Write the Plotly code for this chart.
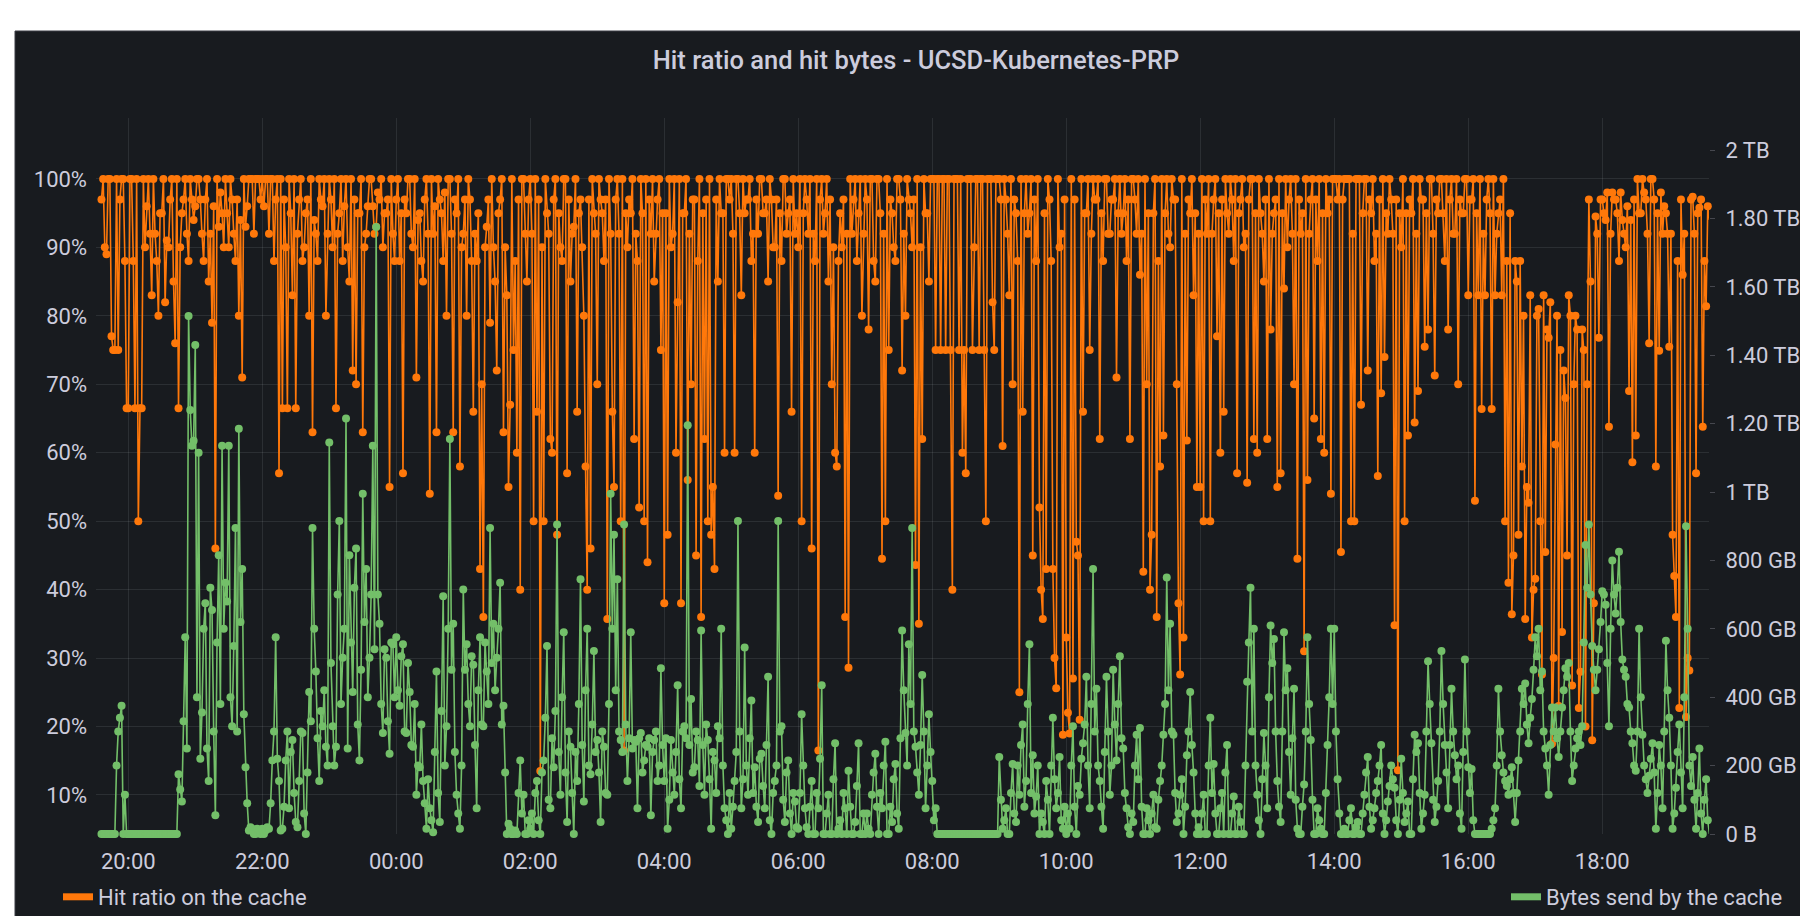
import pandas as pd
import plotly.graph_objects as go

# ---------------- data ----------------
# samples every 3 min starting 19:36, plus the samples in between (every 3 min starting 19:37:30)
start_time = "2022-03-14 19:36"
start_time_mid = "2022-03-14 19:37:30"
step = "3min"

# Hit ratio on the cache (%), one row per hour
hit_ratio = [
    97, 90, 100, 77, 75, 75, 100, 88,                                                       # 19:36-19:57
    66.5, 100, 66.5, 50, 66.5, 90, 100, 83, 92, 80, 95, 82, 90, 100, 76, 66.5, 95, 100, 88, 97,  # 20
    96, 100, 92, 97, 85, 79, 46, 93, 95, 100, 90, 97, 88, 80, 71, 93, 100, 100, 100, 100,   # 21
    100, 100, 92, 100, 97, 57, 66.5, 90, 100, 83, 66.5, 97, 88, 95, 80, 63, 92, 100, 96, 80,  # 22
    100, 90, 66.5, 95, 88, 100, 85, 72, 70, 95, 63, 92, 100, 96, 93, 97, 90, 95, 55, 92,    # 23
    97, 88, 57, 95, 100, 90, 71, 95, 85, 100, 54, 92, 63, 97, 88, 80, 100, 63, 95, 58,      # 00
    92, 80, 97, 66, 88, 43, 36, 93, 79, 90, 72, 97, 63, 83, 67, 75, 60, 40, 100, 85,        # 01
    100, 50, 66, 13.5, 50, 95, 62, 97, 48, 90, 100, 57, 85, 93, 66, 97, 80, 40, 46, 95,     # 02
    70, 97, 88, 35.7, 92, 55, 100, 50, 16.5, 90, 95, 62, 88, 100, 50, 44, 92, 85, 97, 75,   # 03
    38, 48, 90, 100, 82, 38, 95, 56, 70, 97, 88, 36, 62, 50, 48, 43, 85, 95, 60, 100,       # 04
    100, 60, 100, 83, 95, 97, 88, 60, 92, 100, 95, 85, 97, 90, 53.7, 88, 100, 95, 66, 92,   # 05
    90, 50, 100, 92, 46, 88, 16.5, 100, 95, 85, 70, 60, 88, 90, 36, 28.6, 92, 100, 95, 80,  # 06
    100, 78, 100, 85, 100, 44.5, 50, 75, 95, 88, 100, 72, 80, 97, 90, 43.6, 35, 62, 95, 85,  # 07
    100, 75, 100, 100, 75, 100, 40, 100, 75, 60, 57, 100, 75, 100, 75, 100, 50, 100, 82, 100,  # 08
    100, 61, 97, 83, 70, 95, 25, 66, 100, 95, 45, 88, 52, 35.7, 43, 97, 43, 25.6, 90, 18.8,  # 09
    33, 19, 27, 47, 21, 66, 95, 75, 100, 97, 62, 88, 100, 92, 97, 71, 100, 95, 88, 62,      # 10
    100, 92, 86, 42.6, 70, 40, 95, 36, 58, 62.5, 100, 90, 97, 70, 27.6, 33, 61.8, 95, 83, 55,  # 11
    55, 50, 92, 50, 97, 77, 60, 66, 95, 100, 88, 57, 97, 90, 55.6, 100, 62, 60, 95, 85,     # 12
    62, 78, 95, 55, 57, 84, 90, 100, 70, 44.5, 92, 31, 56, 97, 65, 88, 62, 60, 95, 54,      # 13
    100, 97, 45.5, 100, 100, 50, 50, 100, 67, 100, 72, 95, 88, 56.6, 68.7, 74, 92, 97, 34.8, 13.6,  # 14
    90, 50, 62.5, 95, 64.4, 69, 97, 75.5, 78, 100, 71.3, 95, 100, 88, 78, 100, 92, 70, 95, 100,  # 15
    83, 97, 53, 83, 66.4, 83, 100, 66.4, 83, 95, 83, 50, 41, 36.4, 88, 48, 58, 35.7, 52.7, 33,  # 16
    41.6, 81, 27.6, 45.5, 76.8, 17.5, 61.2, 23, 33.8, 68, 83, 26, 80, 22.7, 78, 20, 97, 18, 94.5, 76.8,  # 17
    97, 94, 63.8, 98, 97, 88, 94, 90, 69, 58.6, 62.5, 95, 100, 97, 76, 100, 58, 74.9, 92, 95,  # 18
    75.5, 48, 36, 22.7, 86, 21.4, 28.2, 97.4, 57, 95.8, 63.8, 81.4, 94,                     # 19:00-19:36
]

# Hit ratio, in-between samples (19:37:30, 19:40:30, ...)
hit_ratio_mid = [
    100, 89, 100, 75, 100, 97, 100, 66.5,                                                    # 19
    100, 88, 100, 66.5, 100, 96, 92, 100, 88, 95, 100, 91, 97, 85, 100, 90, 97, 92, 100, 94,  # 20
    100, 97, 88, 100, 92, 96, 100, 98, 90, 95, 100, 92, 97, 94, 100, 96, 100, 92, 100, 97,  # 21
    96, 100, 100, 88, 100, 100, 97, 66.5, 95, 100, 92, 100, 90, 97, 100, 94, 88, 97, 100, 92,  # 22
    97, 100, 92, 100, 96, 90, 100, 97, 95, 100, 90, 96, 100, 92, 98, 100, 95, 97, 100, 88,  # 23
    100, 95, 97, 100, 92, 100, 94, 88, 97, 92, 100, 96, 100, 95, 98, 100, 92, 97, 100, 90,  # 00
    97, 100, 88, 92, 95, 70, 90, 97, 100, 85, 95, 100, 90, 55, 100, 88, 97, 100, 92, 97,    # 01
    92, 100, 97, 90, 100, 92, 60, 100, 95, 88, 100, 97, 92, 100, 95, 90, 58, 97, 100, 92,   # 02
    100, 95, 97, 100, 66, 97, 92, 100, 95, 97, 100, 92, 52, 95, 100, 97, 100, 92, 100, 95,  # 03
    95, 100, 92, 60, 100, 95, 100, 92, 97, 45, 100, 95, 97, 100, 55, 97, 100, 95, 100, 97,  # 04
    92, 100, 95, 100, 97, 100, 92, 97, 100, 95, 97, 100, 90, 97, 95, 100, 92, 97, 100, 95,  # 05
    100, 95, 97, 100, 92, 100, 97, 92, 100, 97, 90, 58, 95, 97, 92, 100, 97, 88, 100, 92,   # 06
    97, 100, 88, 100, 95, 92, 100, 97, 90, 100, 97, 92, 100, 95, 97, 100, 90, 100, 95, 100,  # 07
    100, 100, 75, 100, 100, 75, 100, 100, 100, 75, 100, 100, 90, 100, 100, 75, 100, 100, 75, 100,  # 08
    97, 100, 92, 100, 97, 88, 100, 95, 92, 100, 97, 100, 40, 95, 100, 88, 30, 100, 92, 97,  # 09
    22, 100, 97, 45, 100, 95, 100, 92, 97, 100, 95, 100, 92, 97, 100, 95, 92, 100, 97, 100,  # 10
    97, 100, 92, 100, 95, 48, 100, 88, 100, 95, 92, 100, 97, 38, 100, 92, 97, 100, 95, 92,  # 11
    100, 97, 100, 92, 100, 95, 97, 100, 92, 97, 100, 95, 100, 92, 97, 100, 95, 100, 92, 97,  # 12
    100, 92, 97, 100, 95, 100, 97, 92, 100, 97, 95, 100, 92, 100, 97, 100, 95, 100, 97, 100,  # 13
    100, 100, 97, 100, 100, 92, 100, 100, 95, 100, 97, 100, 92, 97, 100, 95, 100, 92, 97, 95,  # 14
    100, 95, 97, 100, 92, 100, 97, 95, 100, 92, 97, 100, 95, 100, 97, 92, 100, 97, 95, 100,  # 15
    97, 100, 95, 100, 92, 97, 95, 100, 92, 97, 100, 88, 95, 45, 85, 88, 80, 55, 83, 40,     # 16
    80, 50, 83, 78, 82, 30, 80, 75, 72, 45, 80, 70, 78, 28, 75, 70, 85, 38, 92, 97,         # 17
    95, 98, 92, 97, 95, 98, 92, 96, 94, 97, 100, 95, 98, 92, 100, 97, 95, 98, 96, 92,       # 18
    92, 42, 88, 97, 92, 30, 97, 92, 95, 97, 88, 96,                                          # 19
]

# Bytes send by the cache (GB), one row per hour
bytes_gb = [
    0, 0, 0, 0, 0, 300, 375, 115,                                                            # 19:36-19:57
    0, 0, 0, 0, 0, 0, 0, 0, 0, 0, 0, 0, 0, 0, 0, 175, 95, 575, 1515, 1135,                  # 20
    1430, 1115, 355, 675, 155, 655, 55, 815, 1135, 735, 1135, 315, 895, 1185, 775, 195, 10, 15, 0, 10,  # 21
    15, 10, 15, 215, 575, 155, 15, 215, 75, 275, 35, 155, 295, 0, 415, 895, 475, 155, 315, 255,  # 22
    1145, 315, 255, 915, 515, 1215, 815, 415, 835, 215, 995, 775, 515, 1135, 1775, 615, 295, 515, 235, 555,  # 23
    575, 375, 555, 295, 415, 255, 115, 195, 155, 15, 75, 5, 475, 35, 695, 315, 1155, 615, 115, 15,  # 00
    715, 555, 315, 495, 75, 575, 315, 475, 895, 615, 515, 735, 375, 0, 15, 0, 0, 215, 115, 0,  # 01
    15, 0, 155, 0, 215, 550, 75, 195, 905, 115, 590, 35, 255, 0, 155, 745, 95, 600, 175, 535,  # 02
    275, 35, 255, 115, 995, 875, 745, 275, 905, 155, 590, 275, 75, 295, 215, 255, 55, 275, 155, 485,  # 03
    155, 15, 275, 115, 435, 75, 315, 1195, 395, 195, 275, 595, 115, 275, 15, 215, 315, 600, 75, 0,  # 04
    15, 155, 915, 75, 545, 115, 390, 195, 35, 235, 75, 460, 0, 155, 915, 315, 35, 215, 0, 95,  # 05
    15, 350, 75, 0, 155, 0, 75, 435, 0, 115, 0, 265, 15, 0, 75, 185, 0, 35, 265, 0,          # 06
    0, 15, 115, 235, 0, 75, 270, 0, 35, 205, 15, 595, 295, 555, 895, 255, 115, 465, 75, 350,  # 07
    155, 75, 0, 0, 0, 0, 0, 0, 0, 0, 0, 0, 0, 0, 0, 0, 0, 0, 0, 0,                           # 08
    225, 15, 75, 0, 205, 35, 115, 320, 155, 555, 230, 110, 0, 35, 155, 0, 340, 75, 225, 15,  # 09
    0, 15, 315, 0, 115, 265, 460, 75, 775, 425, 155, 15, 460, 115, 480, 215, 520, 250, 75, 0,  # 10
    35, 290, 310, 0, 75, 0, 115, 15, 155, 290, 750, 615, 290, 35, 115, 0, 230, 415, 180, 0,  # 11
    0, 115, 0, 340, 205, 0, 75, 0, 260, 0, 110, 0, 35, 0, 445, 720, 600, 115, 0, 295,        # 12
    75, 610, 570, 155, 35, 590, 485, 115, 425, 15, 0, 145, 575, 275, 0, 75, 15, 0, 260, 600,  # 13
    600, 160, 0, 15, 0, 75, 0, 35, 0, 115, 225, 15, 75, 155, 260, 0, 95, 200, 135, 0,        # 14
    220, 35, 95, 0, 290, 265, 15, 115, 505, 265, 35, 155, 535, 260, 75, 425, 230, 200, 15, 510,  # 15
    195, 190, 0, 0, 0, 0, 0, 15, 75, 425, 230, 155, 115, 195, 35, 215, 425, 440, 265, 395,   # 16
    575, 600, 475, 250, 115, 370, 370, 225, 370, 485, 500, 155, 250, 300, 315, 845, 905, 550, 420, 540,  # 17
    710, 670, 315, 800, 645, 825, 510, 460, 370, 265, 185, 600, 290, 160, 170, 265, 15, 260, 75, 565,  # 18
    340, 15, 135, 320, 75, 900, 200, 225, 15, 250, 0, 160, 0,                                # 19:00-19:36
]

# Bytes, in-between samples (GB)
bytes_gb_mid = [
    0, 0, 0, 0, 200, 340, 0, 0,                                                              # 19
    0, 0, 0, 0, 0, 0, 0, 0, 0, 0, 0, 0, 0, 0, 0, 130, 330, 250, 1240, 1150,                 # 20
    400, 220, 600, 250, 720, 300, 560, 380, 600, 680, 400, 550, 300, 620, 350, 90, 20, 0, 15, 0,  # 21
    0, 20, 90, 300, 220, 10, 80, 300, 240, 120, 20, 300, 60, 180, 330, 600, 280, 360, 420, 200,  # 22
    500, 200, 700, 380, 600, 250, 560, 720, 320, 480, 620, 400, 700, 540, 700, 380, 540, 330, 560, 400,  # 23
    420, 520, 300, 500, 260, 380, 200, 320, 90, 160, 40, 240, 120, 360, 200, 600, 480, 240, 60, 200,  # 00
    480, 380, 520, 260, 420, 320, 560, 380, 500, 420, 600, 320, 180, 30, 0, 10, 120, 60, 0, 40,  # 01
    60, 120, 40, 180, 340, 100, 280, 360, 240, 400, 180, 300, 120, 240, 380, 260, 420, 200, 320, 240,  # 02
    180, 300, 120, 380, 600, 420, 300, 240, 320, 280, 250, 270, 280, 180, 260, 280, 240, 300, 200, 260,  # 03
    280, 100, 180, 240, 160, 300, 280, 260, 180, 300, 140, 260, 320, 160, 240, 120, 280, 200, 40, 120,  # 04
    80, 240, 300, 160, 200, 280, 120, 80, 220, 140, 260, 40, 120, 200, 300, 100, 180, 60, 120, 20,  # 05
    120, 200, 20, 80, 0, 120, 220, 0, 60, 0, 160, 0, 40, 120, 0, 80, 0, 140, 0, 60,          # 06
    60, 0, 180, 80, 120, 200, 0, 80, 160, 60, 280, 420, 200, 380, 300, 180, 260, 300, 200, 240,  # 07
    40, 0, 0, 0, 0, 0, 0, 0, 0, 0, 0, 0, 0, 0, 0, 0, 0, 0, 0, 0,                             # 08
    100, 40, 0, 120, 60, 200, 260, 80, 380, 120, 60, 200, 60, 0, 100, 200, 160, 120, 40, 80,  # 09
    60, 200, 80, 140, 220, 320, 200, 380, 300, 200, 80, 240, 300, 200, 320, 380, 280, 120, 20, 60,  # 10
    200, 160, 80, 0, 40, 60, 20, 100, 200, 380, 420, 300, 120, 60, 160, 80, 300, 260, 60, 20,  # 11
    60, 0, 200, 120, 60, 0, 120, 180, 0, 60, 0, 80, 0, 200, 560, 300, 200, 40, 160, 200,     # 12
    400, 500, 300, 80, 300, 420, 240, 280, 100, 0, 80, 300, 380, 100, 0, 40, 0, 120, 400, 380,  # 13
    300, 60, 0, 0, 40, 0, 20, 0, 60, 180, 80, 40, 120, 200, 60, 40, 140, 160, 40, 100,       # 14
    120, 60, 0, 160, 240, 120, 60, 300, 380, 100, 80, 300, 380, 180, 260, 300, 160, 60, 240, 300,  # 15
    120, 40, 0, 0, 0, 0, 0, 40, 200, 300, 180, 140, 160, 120, 120, 300, 380, 320, 340, 480,  # 16
    520, 420, 300, 200, 260, 300, 280, 300, 420, 460, 300, 200, 280, 260, 560, 720, 700, 480, 480, 620,  # 17
    700, 500, 600, 700, 720, 620, 480, 380, 300, 200, 300, 400, 200, 120, 220, 180, 120, 200, 300, 420,  # 18
    200, 60, 240, 180, 400, 600, 140, 100, 120, 60, 100, 40,                                 # 19
]

# axis labels
x_range = ["2022-03-14 19:31:06", "2022-03-15 19:35:36"]
first_tick = "2022-03-14 20:00"
right_tick_bytes = [0, 200e9, 400e9, 600e9, 800e9, 1000e9, 1200e9, 1400e9, 1600e9, 1800e9, 2000e9]
right_tick_text = ["0 B", "200 GB", "400 GB", "600 GB", "800 GB", "1 TB",
                   "1.20 TB", "1.40 TB", "1.60 TB", "1.80 TB", "2 TB"]

title_text = "Hit ratio and hit bytes - UCSD-Kubernetes-PRP"
name_hit = "Hit ratio on the cache"
name_bytes = "Bytes send by the cache"

# ---------------- style ----------------
ORANGE = "#FF780A"
GREEN = "#73BF69"
BG = "#181B1F"
TEXT = "#CCCCDC"
GRID = "rgba(240,250,255,0.09)"
FONT = "Roboto, 'Open Sans', sans-serif"

W, H = 1800, 916
ML, MR, MT, MB = 96, 91, 118, 82
PW, PH = W - ML - MR, H - MT - MB


def px_x(px):
    return (px - ML) / PW


def px_y(py):
    return (H - MB - py) / PH


def merged_series(a, a_start, b, b_start):
    s1 = pd.Series(a, index=pd.date_range(a_start, periods=len(a), freq=step))
    s2 = pd.Series(b, index=pd.date_range(b_start, periods=len(b), freq=step))
    return pd.concat([s1, s2]).sort_index()


hit = merged_series(hit_ratio, start_time, hit_ratio_mid, start_time_mid)
sent = merged_series(bytes_gb, start_time, bytes_gb_mid, start_time_mid) * 1e9

fig = go.Figure()
fig.add_trace(go.Scatter(
    x=hit.index, y=hit.values, mode="lines+markers", yaxis="y",
    line=dict(color=ORANGE, width=1.6), marker=dict(color=ORANGE, size=8),
    cliponaxis=False, showlegend=False, name=name_hit))
fig.add_trace(go.Scatter(
    x=sent.index, y=sent.values, mode="lines+markers", yaxis="y2",
    line=dict(color=GREEN, width=1.6), marker=dict(color=GREEN, size=8),
    cliponaxis=False, showlegend=False, name=name_bytes))

# legend entries
fig.add_trace(go.Scatter(x=[None], y=[None], mode="lines", name=name_hit,
                         line=dict(color=ORANGE, width=7), legend="legend"))
fig.add_trace(go.Scatter(x=[None], y=[None], mode="lines", name=name_bytes, yaxis="y2",
                         line=dict(color=GREEN, width=7), legend="legend2"))

fig.update_layout(
    width=W, height=H,
    margin=dict(l=ML, r=MR, t=MT, b=MB, autoexpand=False),
    paper_bgcolor="white", plot_bgcolor=BG,
    font=dict(family=FONT, size=22, color=TEXT),
    title=dict(text=title_text, x=916 / W, xanchor="center", xref="container",
               y=1 - 60 / H, yanchor="middle", yref="container",
               font=dict(family=FONT, size=25.5, color=TEXT, weight=500)),
    xaxis=dict(type="date", range=x_range, tick0=first_tick, dtick=2 * 3600 * 1000,
               tickformat="%H:%M", showgrid=True, gridcolor=GRID, gridwidth=1,
               zeroline=False, showline=False, ticks="", ticklabelstandoff=12,
               automargin=False, tickfont=dict(size=22, color=TEXT)),
    yaxis=dict(range=[4.3, 108.9], tick0=0, dtick=10, ticksuffix="%",
               showgrid=True, gridcolor=GRID, gridwidth=1, zeroline=False,
               showline=False, ticks="", ticklabelstandoff=8, automargin=False,
               tickfont=dict(size=22, color=TEXT)),
    yaxis2=dict(overlaying="y", side="right", range=[0, 2.0936e12],
                tickvals=right_tick_bytes, ticktext=right_tick_text,
                showgrid=False, zeroline=False, showline=False,
                ticks="outside", ticklen=5, tickcolor="rgba(204,204,220,0.25)",
                ticklabelstandoff=6, automargin=False,
                tickfont=dict(size=22, color=TEXT)),
    legend=dict(orientation="h", x=px_x(58), xanchor="left", y=px_y(897), yanchor="middle",
                bgcolor="rgba(0,0,0,0)", font=dict(size=22, color=TEXT), itemwidth=30),
    legend2=dict(orientation="h", x=px_x(1788), xanchor="right", y=px_y(897), yanchor="middle",
                 bgcolor="rgba(0,0,0,0)", font=dict(size=22, color=TEXT), itemwidth=30),
    shapes=[dict(type="rect", xref="paper", yref="paper", layer="below",
                 x0=px_x(15), x1=px_x(1801), y0=px_y(917), y1=px_y(31),
                 fillcolor=BG, line=dict(color="#3a3d44", width=1))],
)

fig.write_html("out.html", config={"displayModeBar": False},
               post_script="document.body.style.margin='0';document.body.style.overflow='hidden';")
